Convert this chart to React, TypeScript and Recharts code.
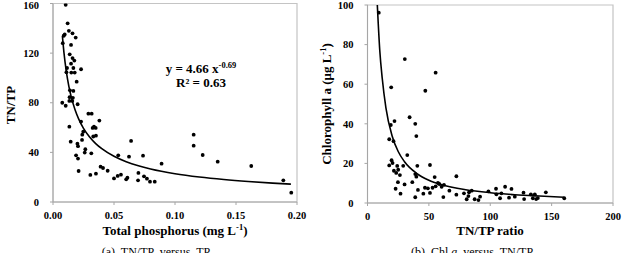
import React from "react";
import {
  ComposedChart,
  Line,
  ReferenceArea,
  Scatter,
  XAxis,
  YAxis,
} from "recharts";

type Pt = { x: number; y: number };

// (a) TN/TP against total phosphorus (mg/L)
const tpObs: [number, number][] = [
  [0.0104, 159], [0.012, 144], [0.013, 138], [0.0096, 135], [0.0088, 134],
  [0.016, 136], [0.0186, 132.5], [0.008, 128], [0.0148, 126.6], [0.0137, 119],
  [0.016, 116], [0.0175, 114], [0.0148, 111.5], [0.0115, 108], [0.0167, 108],
  [0.023, 107], [0.011, 104.6], [0.015, 104.3], [0.0178, 104.3], [0.0194, 97],
  [0.0139, 90], [0.0167, 89.5], [0.0136, 84.5], [0.0163, 84], [0.0134, 81.5],
  [0.0158, 81.5], [0.0076, 80], [0.0104, 77.6], [0.0202, 78.8], [0.029, 71.2],
  [0.0317, 71.2], [0.023, 64.8], [0.038, 65.6], [0.0336, 60.7], [0.035, 59.7],
  [0.0325, 59.7], [0.0134, 60.7], [0.0248, 56.7], [0.024, 54.3], [0.0352, 53.5],
  [0.033, 52.8], [0.0145, 48.6], [0.02, 47], [0.0205, 45], [0.0238, 50],
  [0.064, 49.2], [0.0265, 42.5], [0.026, 39.8], [0.0314, 39.2], [0.0189, 37.6],
  [0.0205, 35], [0.0535, 37.6], [0.0623, 36.5], [0.0738, 37.3], [0.021, 25],
  [0.0306, 21.8], [0.0352, 22.8], [0.039, 28.5], [0.041, 27.4], [0.0448, 25.2],
  [0.05, 19], [0.053, 21], [0.0557, 22], [0.06, 18.3], [0.061, 19.6],
  [0.07, 23.4], [0.0697, 17.5], [0.0746, 20.7], [0.077, 18.8], [0.0795, 16.4],
  [0.0834, 16.4], [0.089, 30.9], [0.1153, 54.3], [0.1153, 45.4], [0.1227, 37.9],
  [0.135, 32.5], [0.1625, 29], [0.1888, 17.5], [0.1953, 7.5],
];

// power fit printed on the panel: y = 4.66 x^-0.69
const TP_FIT_A = 4.66;
const TP_FIT_B = -0.69;
const tpFitX = [
  0.0077, 0.009, 0.011, 0.013, 0.015, 0.018, 0.021, 0.025, 0.03, 0.035, 0.04,
  0.05, 0.06, 0.07, 0.08, 0.1, 0.12, 0.14, 0.16, 0.18, 0.195,
];
const tpTicksX = [0, 0.05, 0.1, 0.15, 0.2];
const tpTicksY = [0, 40, 80, 120, 160];

// (b) chlorophyll a (ug/L) against TN/TP ratio
const chlObs: [number, number][] = [
  [9.2, 96.1], [30.4, 72.7], [55.5, 65.8], [19.3, 58.4], [47.1, 56.7],
  [34.3, 43.3], [38.9, 40], [39.8, 33.8], [19, 39.4], [22, 41.4],
  [17.7, 32.2], [21.2, 31.2], [32.4, 24.2], [19.6, 21.6], [20.4, 20.2],
  [17.7, 19], [24.2, 18.7], [29.1, 18.8], [40.6, 18.8], [50.9, 19.2],
  [21.5, 16.3], [23.4, 15.2], [25, 16.8], [26.4, 14.1], [38.9, 14.6],
  [39.8, 13.3], [36.5, 10.5], [54.7, 13.1], [24.8, 10.5], [30.2, 9.4],
  [57.4, 10.1], [58.5, 9.6], [46.8, 7.7], [49.2, 7.4], [53, 7.7],
  [55.5, 8.4], [60.4, 8.2], [41.1, 6.6], [45.5, 4.7], [22.9, 7.2],
  [26.9, 4.7], [50.9, 5.1], [66.7, 6.2], [72.4, 4.2], [38.9, 2.9],
  [61.8, 3], [72.4, 13.5], [62.3, 9.2], [78.6, 4.9], [82.2, 3.5],
  [82.7, 5.4], [84.9, 6.2], [80.8, 1.9], [87.3, 1.9], [90.4, 1.5],
  [91.7, 3.2], [98.5, 5.9], [104.7, 7.2], [105, 4.4], [108, 2.4],
  [109.1, 4.9], [112.1, 8.2], [117.3, 7.1], [115.3, 2.7], [120, 3.2],
  [127.1, 5.2], [127.6, 2], [133.1, 4.4], [134.7, 2.4], [136.3, 4.4],
  [137.4, 2], [138.8, 2.5], [145.3, 5.4], [160.3, 2.4],
];
// trend curve, read at fixed TN/TP steps
const chlFitX = [8, 10, 12, 15, 20, 25, 30, 40, 50, 60, 80, 100, 120, 140, 160];
const chlFitY = [100, 77, 63, 48, 34, 26, 21, 15, 11.5, 9.3, 6.7, 5.2, 4.2, 3.5, 2.9];
const chlTicksX = [0, 50, 100, 150, 200];
const chlTicksY = [0, 20, 40, 60, 80, 100];

const toPts = (rows: [number, number][]): Pt[] => rows.map(([x, y]) => ({ x, y }));
const tpPoints = toPts(tpObs);
const tpCurve: Pt[] = tpFitX.map((x) => ({ x, y: TP_FIT_A * Math.pow(x, TP_FIT_B) }));
const chlPoints = toPts(chlObs);
const chlCurve: Pt[] = chlFitX.map((x, i) => ({ x, y: chlFitY[i] }));

const SERIF = '"Liberation Serif", "Times New Roman", serif';
const AXIS = "#a6a6a6";
const tickStyle = { fill: "#000", fontSize: 10.5, fontWeight: 700, fontFamily: SERIF };

const Dot = (props: any) => <circle cx={props.cx} cy={props.cy} r={1.9} fill="#000" />;

function Panel({
  left,
  top,
  bottom,
  right,
  yWidth,
  xDomain,
  yDomain,
  xTicks,
  yTicks,
  xFmt,
  points,
  curve,
}: {
  left: number;
  top: number;
  bottom: number;
  right: number;
  yWidth: number;
  xDomain: [number, number];
  yDomain: [number, number];
  xTicks: number[];
  yTicks: number[];
  xFmt: (v: number) => string;
  points: Pt[];
  curve: Pt[];
}) {
  return (
    <div style={{ position: "absolute", left, top: 0 }}>
      <ComposedChart
        width={310}
        height={253}
        margin={{ top, right, left: 0, bottom: 0 }}
      >
        <XAxis
          type="number"
          dataKey="x"
          domain={xDomain}
          ticks={xTicks}
          tickFormatter={xFmt}
          allowDataOverflow
          height={bottom}
          tick={tickStyle}
          tickSize={3}
          tickMargin={7}
          axisLine={{ stroke: AXIS }}
          tickLine={{ stroke: AXIS }}
        />
        <YAxis
          type="number"
          dataKey="y"
          domain={yDomain}
          ticks={yTicks}
          allowDataOverflow
          width={yWidth}
          tick={tickStyle}
          tickSize={3}
          tickMargin={11}
          axisLine={{ stroke: AXIS }}
          tickLine={{ stroke: AXIS }}
        />
        <ReferenceArea
          x1={xDomain[0]}
          x2={xDomain[1]}
          y1={yDomain[0]}
          y2={yDomain[1]}
          fill="none"
          stroke="#c4c4c4"
          strokeWidth={1.2}
        />
        <Scatter data={points} shape={Dot} isAnimationActive={false} />
        <Line
          data={curve}
          dataKey="y"
          type="monotone"
          dot={false}
          stroke="#000"
          strokeWidth={1.6}
          isAnimationActive={false}
        />
      </ComposedChart>
    </div>
  );
}

const titleStyle = { fontFamily: SERIF, fontWeight: 700, fontSize: 13, fill: "#000" } as const;
const capStyle = { fontFamily: SERIF, fontSize: 12, fill: "#000" } as const;

export default function App() {
  return (
    <div
      style={{
        position: "absolute",
        left: 0,
        top: 0,
        width: 625,
        height: 253,
        overflow: "hidden",
        background: "#fff",
        fontFamily: SERIF,
      }}
    >
      <Panel
        left={0}
        top={3.5}
        bottom={51}
        right={13}
        yWidth={53}
        xDomain={[0, 0.2]}
        yDomain={[0, 160]}
        xTicks={tpTicksX}
        yTicks={tpTicksY}
        xFmt={(v) => v.toFixed(2)}
        points={tpPoints}
        curve={tpCurve}
      />
      <Panel
        left={315}
        top={5}
        bottom={50}
        right={12}
        yWidth={52.5}
        xDomain={[0, 200]}
        yDomain={[0, 100]}
        xTicks={chlTicksX}
        yTicks={chlTicksY}
        xFmt={(v) => String(v)}
        points={chlPoints}
        curve={chlCurve}
      />
      <svg
        width={625}
        height={253}
        style={{ position: "absolute", left: 0, top: 0, pointerEvents: "none" }}
      >
        <text x={201} y={72.5} textAnchor="middle" style={titleStyle}>
          y = 4.66 x
          <tspan dy={-5} fontSize={8.5}>-0.69</tspan>
        </text>
        <text x={201} y={86.5} textAnchor="middle" style={titleStyle}>
          R² = 0.63
        </text>

        <text x={175} y={235} textAnchor="middle" style={titleStyle}>
          Total phosphorus (mg L
          <tspan dy={-5} fontSize={8.5}>-1</tspan>
          <tspan dy={5}>)</tspan>
        </text>
        <text x={490} y={235} textAnchor="middle" style={titleStyle}>
          TN/TP ratio
        </text>
        <text x={15} y={105} textAnchor="middle" transform="rotate(-90 15 105)" style={titleStyle}>
          TN/TP
        </text>
        <text x={331} y={104} textAnchor="middle" transform="rotate(-90 331 104)" style={titleStyle}>
          Chlorophyll a (μg L
          <tspan dy={-5} fontSize={8.5}>-1</tspan>
          <tspan dy={5}>)</tspan>
        </text>

        <text x={156} y={255.5} textAnchor="middle" style={capStyle} xmlSpace="preserve">
          {"(a)  TN/TP  versus  TP"}
        </text>
        <text x={472} y={255.5} textAnchor="middle" style={capStyle} xmlSpace="preserve">
          (b)  Chl <tspan fontStyle="italic">a</tspan>  versus  TN/TP
        </text>
      </svg>
    </div>
  );
}
